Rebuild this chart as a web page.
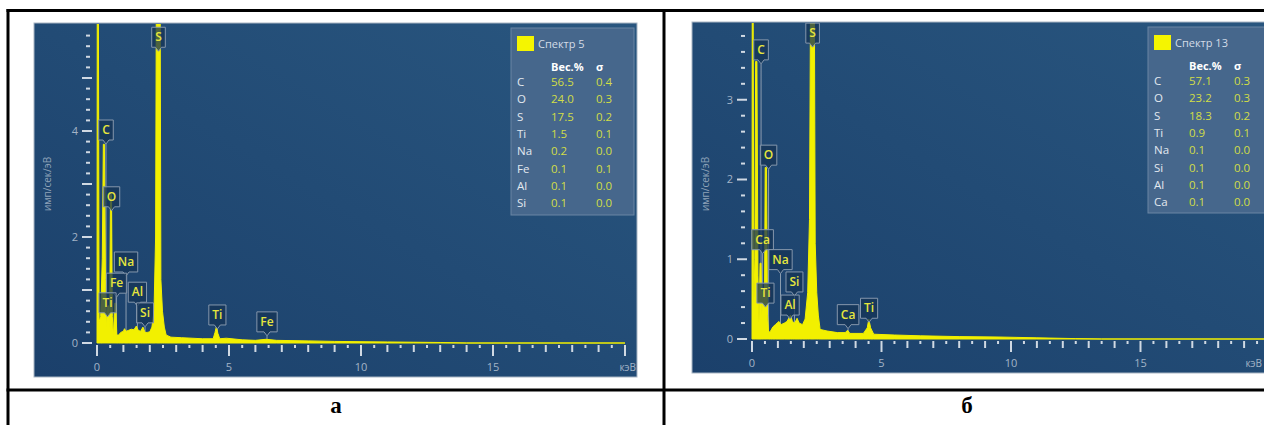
<!DOCTYPE html>
<html>
<head>
<meta charset="utf-8">
<script src="https://cdn.jsdelivr.net/npm/d3@7"></script>
<style>
  html, body { margin: 0; padding: 0; background: #fff; }
  svg { display: block; font-family: 'Open Sans', sans-serif; }
</style>
</head>
<body>
<svg id="chart"></svg>
<script>
const { select, scaleLinear, area, range } = d3

// spectrum "а" : [keV, имп/сек/эВ]
const spectrumA = [
  [0.00, 0], [0.01, 7], [0.05, 7], [0.08, 0.4], [0.14, 0.5], [0.20, 1.6],
  [0.24, 3.75], [0.28, 3.75], [0.32, 1.2], [0.36, 0.3], [0.41, 0.7], [0.45, 0.7],
  [0.48, 0.3], [0.51, 2.8], [0.55, 2.8], [0.58, 0.5], [0.62, 0.12], [0.67, 0.75],
  [0.71, 0.75], [0.75, 0.15], [0.82, 0.15], [0.90, 0.2], [1.00, 0.22], [1.04, 0.27],
  [1.10, 0.22], [1.20, 0.24], [1.30, 0.26], [1.40, 0.25], [1.49, 0.32], [1.56, 0.24],
  [1.65, 0.22], [1.74, 0.3], [1.82, 0.2], [1.90, 0.2], [2.00, 0.21], [2.08, 0.3],
  [2.16, 0.6], [2.22, 2.0], [2.25, 7], [2.39, 7], [2.42, 1.2], [2.48, 0.6],
  [2.55, 0.3], [2.62, 0.15], [2.80, 0.11], [3.20, 0.1], [3.60, 0.09], [4.00, 0.08],
  [4.40, 0.08], [4.47, 0.2], [4.52, 0.3], [4.58, 0.18], [4.65, 0.08], [4.90, 0.09],
  [5.50, 0.06], [6.00, 0.05], [6.40, 0.07], [6.80, 0.05], [8.00, 0.04], [9.00, 0.03],
  [10.0, 0.025], [11.0, 0.02], [12.0, 0.015], [13.0, 0.01], [14.0, 0], [20.0, 0]
]

// spectrum "б"
const spectrumB = [
  [0.00, 0], [0.01, 5], [0.04, 5], [0.07, 0.4], [0.11, 1.0], [0.14, 3.48],
  [0.19, 3.48], [0.23, 0.8], [0.27, 0.2], [0.31, 0.95], [0.35, 0.95], [0.38, 0.3],
  [0.42, 0.6], [0.45, 0.6], [0.48, 0.3], [0.51, 2.15], [0.56, 2.15], [0.60, 0.3],
  [0.64, 0.08], [0.72, 0.1], [0.80, 0.15], [0.90, 0.18], [1.04, 0.22], [1.12, 0.18],
  [1.25, 0.2], [1.35, 0.22], [1.49, 0.3], [1.56, 0.22], [1.65, 0.2], [1.74, 0.26],
  [1.82, 0.2], [1.95, 0.18], [2.05, 0.25], [2.15, 0.58], [2.22, 1.5], [2.27, 5],
  [2.40, 5], [2.44, 1.2], [2.50, 0.58], [2.56, 0.3], [2.63, 0.12], [2.90, 0.1],
  [3.30, 0.08], [3.60, 0.08], [3.69, 0.11], [3.78, 0.07], [4.30, 0.07], [4.45, 0.14],
  [4.51, 0.25], [4.58, 0.14], [4.70, 0.06], [5.50, 0.05], [6.50, 0.04], [8.00, 0.03],
  [9.50, 0.025], [11.0, 0.015], [12.5, 0.005], [13.5, 0], [20.0, 0]
]

// peak tags: element, energy of the tag, counts level of the tag bottom
const tagsA = [
  ['S', 2.33, 5.58], ['C', 0.34, 3.83], ['O', 0.55, 2.57], ['Na', 1.10, 1.34],
  ['Fe', 0.74, 0.94], ['Al', 1.53, 0.77], ['Ti', 0.40, 0.57], ['Si', 1.82, 0.38],
  ['Ti', 4.56, 0.34], ['Fe', 6.44, 0.21]
]
const tagsB = [
  ['S', 2.34, 3.71], ['C', 0.35, 3.50], ['O', 0.64, 2.18], ['Ca', 0.41, 1.12],
  ['Na', 1.10, 0.87], ['Si', 1.64, 0.59], ['Ti', 0.52, 0.45], ['Al', 1.47, 0.30],
  ['Ca', 3.71, 0.18], ['Ti', 4.52, 0.26]
]

// quantification tables
const elementsA = ['C', 'O', 'S', 'Ti', 'Na', 'Fe', 'Al', 'Si']
const weightA = ['56.5', '24.0', '17.5', '1.5', '0.2', '0.1', '0.1', '0.1']
const sigmaA = ['0.4', '0.3', '0.2', '0.1', '0.0', '0.1', '0.0', '0.0']

const elementsB = ['C', 'O', 'S', 'Ti', 'Na', 'Si', 'Al', 'Ca']
const weightB = ['57.1', '23.2', '18.3', '0.9', '0.1', '0.1', '0.1', '0.1']
const sigmaB = ['0.3', '0.3', '0.2', '0.1', '0.0', '0.0', '0.0', '0.0']

const yLabelsA = [0, 2, 4]
const yLabelsB = [0, 1, 2, 3]
const xLabels = [0, 5, 10, 15]

const width = 1264, height = 425

const svg = select('#chart')
  .attr('width', width)
  .attr('height', height)

const defs = svg.append('defs')
const grad = defs.append('linearGradient')
  .attr('id', 'bg')
  .attr('x1', 0).attr('y1', 1).attr('x2', 1).attr('y2', 0)
grad.append('stop').attr('offset', '0%').attr('stop-color', '#1b406b')
grad.append('stop').attr('offset', '100%').attr('stop-color', '#29567f')

const drawPanel = p => {
  const g = svg.append('g')

  g.append('rect')
    .attr('x', p.left).attr('y', p.top)
    .attr('width', p.right - p.left).attr('height', p.bottom - p.top)
    .attr('fill', 'url(#bg)')
    .attr('stroke', '#a9b6c4')
    .attr('stroke-width', 1)

  defs.append('clipPath').attr('id', 'clip' + p.id)
    .append('rect')
    .attr('x', p.left + 1).attr('y', p.top + 1)
    .attr('width', p.right - p.left - 2).attr('height', p.bottom - p.top - 2)

  const xScale = scaleLinear().domain([0, 20]).range([p.x0, p.x20])
  const yScale = scaleLinear().domain([0, p.yMax]).range([p.y0, p.yTop])

  // y ticks every 0.2, long ones on whole numbers
  const yTicks = range(0, Math.round(p.yMax / 0.2) + 1).map(i => i * 0.2)
    .filter(v => yScale(v) > p.top + 2)
  g.selectAll('.ytick').data(yTicks)
    .enter().append('line')
    .attr('class', 'ytick')
    .attr('x1', v => Math.abs(v - Math.round(v)) < 1e-6 ? p.x0 - 15 : p.x0 - 11)
    .attr('x2', v => Math.abs(v - Math.round(v)) < 1e-6 ? p.x0 - 5 : p.x0 - 7)
    .attr('y1', v => yScale(v))
    .attr('y2', v => yScale(v))
    .attr('stroke', '#d0d9e3')
    .attr('stroke-width', 2)

  g.selectAll('.ylab').data(p.yLabels)
    .enter().append('text')
    .attr('x', p.x0 - 19)
    .attr('y', v => yScale(v))
    .attr('dy', '0.35em')
    .attr('text-anchor', 'end')
    .attr('font-size', 11)
    .attr('fill', '#a3b4c7')
    .text(v => v)

  // x ticks every 0.5 keV
  const xTicks = range(0, 41).map(i => i * 0.5)
  g.selectAll('.xtick').data(xTicks)
    .enter().append('line')
    .attr('class', 'xtick')
    .attr('x1', v => xScale(v))
    .attr('x2', v => xScale(v))
    .attr('y1', p.y0 + 2)
    .attr('y2', v => p.y0 + 2 + (v % 5 === 0 ? 11 : (v % 1 === 0 ? 7 : 3)))
    .attr('stroke', '#d0d9e3')
    .attr('stroke-width', 2)

  g.selectAll('.xlab').data(xLabels)
    .enter().append('text')
    .attr('x', v => xScale(v))
    .attr('y', p.y0 + 28)
    .attr('text-anchor', 'middle')
    .attr('font-size', 11)
    .attr('fill', '#a3b4c7')
    .text(v => v)

  g.append('text')
    .attr('x', Math.min(xScale(20) + 11, width - 2))
    .attr('y', p.y0 + 28)
    .attr('text-anchor', 'end')
    .attr('font-size', 10)
    .attr('fill', '#a3b4c7')
    .text('кэВ')

  g.append('text')
    .attr('transform', `translate(${p.left + 17}, 184) rotate(-90)`)
    .attr('text-anchor', 'middle')
    .attr('font-size', 10)
    .attr('fill', '#8ea2b8')
    .text('имп/сек/эВ')

  const plot = g.append('g').attr('clip-path', `url(#clip${p.id})`)

  // pointer lines under the spectrum
  plot.selectAll('.pointer').data(p.tags)
    .enter().append('line')
    .attr('x1', d => xScale(d[1]))
    .attr('x2', d => xScale(d[1]))
    .attr('y1', d => yScale(d[2]) + 4)
    .attr('y2', p.y0)
    .attr('stroke', '#8c9db0')
    .attr('stroke-width', 1)

  const areaGen = area()
    .x(d => xScale(d[0]))
    .y0(p.y0)
    .y1(d => yScale(d[1]))

  plot.append('path')
    .datum(p.spectrum)
    .attr('d', areaGen)
    .attr('fill', '#f2f000')
    .attr('stroke', '#f2f000')
    .attr('stroke-width', 1)

  // element tags
  const tagG = plot.selectAll('.tag').data(p.tags)
    .enter().append('g')
    .attr('transform', d => `translate(${xScale(d[1])}, ${yScale(d[2])})`)

  tagG.append('path')
  const labels = tagG.append('text')
    .attr('y', -6)
    .attr('text-anchor', 'middle')
    .attr('font-size', 12)
    .attr('font-weight', 600)
    .attr('fill', '#e6e63c')
    .text(d => d[0])

  labels.each(function () {
    const w = this.getComputedTextLength() + 7
    const h = 20
    const hw = w / 2
    select(this.previousSibling)
      .attr('d', `M${-hw},${-h} H${hw} V0 H3 L0,4 L-3,0 H${-hw} Z`)
      .attr('fill', 'rgba(22, 52, 86, 0.75)')
      .attr('stroke', '#8597ac')
      .attr('stroke-width', 1)
  })

  // legend
  const lg = g.append('g')
  lg.append('rect')
    .attr('x', p.legX).attr('y', p.legTop)
    .attr('width', p.legW).attr('height', p.legBottom - p.legTop)
    .attr('fill', '#46678c')
    .attr('stroke', '#6a86a4')
    .attr('stroke-width', 1)

  lg.append('rect')
    .attr('x', p.legX + 6).attr('y', p.legTop + 8)
    .attr('width', 17).attr('height', 15)
    .attr('fill', '#f5f500')

  lg.append('text')
    .attr('x', p.legX + 27).attr('y', p.legTop + 20)
    .attr('font-size', 11)
    .attr('fill', '#d3dce7')
    .text(p.title)

  lg.append('text')
    .attr('x', p.colW).attr('y', p.legTop + 43)
    .attr('font-size', 11)
    .attr('font-weight', 700)
    .attr('fill', '#ffffff')
    .text('Вес.%')

  lg.append('text')
    .attr('x', p.colS).attr('y', p.legTop + 43)
    .attr('font-size', 11)
    .attr('font-weight', 700)
    .attr('fill', '#ffffff')
    .text('σ')

  const rowY = i => p.legTop + 58 + i * 17.3
  lg.selectAll('.el').data(p.elements)
    .enter().append('text')
    .attr('x', p.legX + 6).attr('y', (d, i) => rowY(i))
    .attr('font-size', 11.5)
    .attr('fill', '#e3e9f0')
    .text(d => d)
  lg.selectAll('.wt').data(p.weight)
    .enter().append('text')
    .attr('x', p.colW).attr('y', (d, i) => rowY(i))
    .attr('font-size', 11.5)
    .attr('fill', '#d2de46')
    .text(d => d)
  lg.selectAll('.sg').data(p.sigma)
    .enter().append('text')
    .attr('x', p.colS).attr('y', (d, i) => rowY(i))
    .attr('font-size', 11.5)
    .attr('fill', '#d2de46')
    .text(d => d)
}

drawPanel({
  id: 'a', left: 34, top: 23, right: 637, bottom: 377,
  x0: 97, x20: 625, y0: 343, yTop: 25, yMax: 6,
  yLabels: yLabelsA, spectrum: spectrumA, tags: tagsA,
  legX: 511, legW: 123, legTop: 28, legBottom: 215,
  colW: 551, colS: 596, title: 'Спектр 5',
  elements: elementsA, weight: weightA, sigma: sigmaA
})

drawPanel({
  id: 'b', left: 692, top: 22, right: 1290, bottom: 373,
  x0: 752, x20: 1270, y0: 339, yTop: 20, yMax: 4,
  yLabels: yLabelsB, spectrum: spectrumB, tags: tagsB,
  legX: 1148, legW: 130, legTop: 27, legBottom: 213,
  colW: 1189, colS: 1234, title: 'Спектр 13',
  elements: elementsB, weight: weightB, sigma: sigmaB
})

// table frame
const frame = svg.append('g').attr('stroke', '#000').attr('stroke-width', 3)
frame.append('line').attr('x1', 6.5).attr('x2', width).attr('y1', 10.5).attr('y2', 10.5)
frame.append('line').attr('x1', 6.5).attr('x2', width).attr('y1', 390).attr('y2', 390)
frame.append('line').attr('x1', 8).attr('x2', 8).attr('y1', 9).attr('y2', height)
frame.append('line').attr('x1', 664).attr('x2', 664).attr('y1', 9).attr('y2', height)

svg.selectAll('.cap').data([['а', 336], ['б', 967]])
  .enter().append('text')
  .attr('x', d => d[1])
  .attr('y', 413)
  .attr('text-anchor', 'middle')
  .attr('font-family', "'Liberation Serif', serif")
  .attr('font-weight', 700)
  .attr('font-size', 23)
  .attr('fill', '#000')
  .text(d => d[0])
</script>
</body>
</html>
